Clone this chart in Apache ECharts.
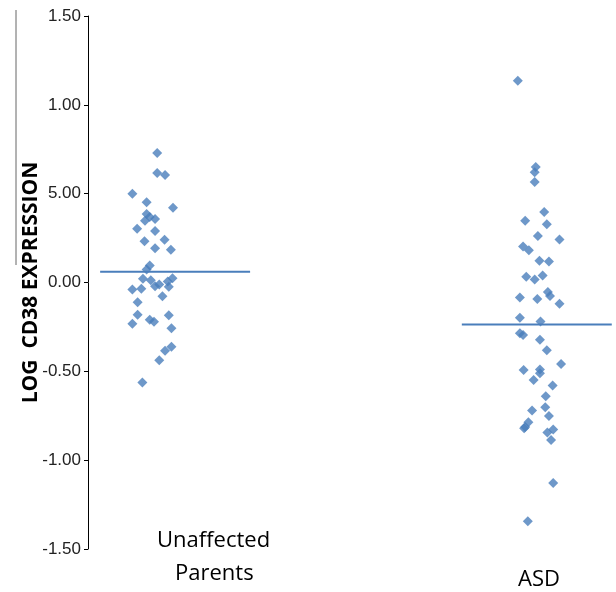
<!DOCTYPE html>
<html>
<head>
<meta charset="utf-8">
<title>LOG CD38 EXPRESSION</title>
<script src="https://cdn.jsdelivr.net/npm/echarts@6/dist/echarts.min.js"></script>
<style>
  html, body { margin: 0; padding: 0; background: #fff; }
  #main { width: 616px; height: 592px; }
</style>
</head>
<body>
<div id="main"></div>
<script>
// jitter position (0..10 horizontal scale) and log CD38 value per subject
var parentsX = [1.31,1.31,1.46,0.84,1.11,1.61,1.11,1.17,1.27,1.08,0.93,1.27,1.07,1.45,1.27,1.57,1.17,1.11,1.04,1.19,
                1.60,1.51,0.84,1.01,1.27,1.35,1.53,1.41,0.94,0.94,0.84,1.17,1.25,1.53,1.58,1.58,1.46,1.35,1.03];
var parentsY = [0.729,0.616,0.605,0.500,0.451,0.421,0.386,0.369,0.358,0.348,0.303,0.290,0.232,0.240,0.193,0.184,0.096,0.073,0.021,0.013,
                0.024,0.006,-0.039,-0.035,-0.021,-0.011,-0.024,-0.077,-0.111,-0.181,-0.232,-0.210,-0.221,-0.184,-0.257,-0.361,-0.384,-0.438,-0.563];
var asdX = [8.14,8.48,8.46,8.46,8.64,8.28,8.69,8.52,8.93,8.24,8.35,8.55,8.73,8.30,8.46,8.61,8.71,8.75,8.18,8.51,8.93,
            8.18,8.57,8.18,8.24,8.56,8.69,8.96,8.25,8.56,8.56,8.44,8.80,8.67,8.41,8.66,8.73,8.34,8.28,8.26,8.70,8.81,8.77,8.81,8.33];
var asdY = [1.135,0.650,0.620,0.566,0.397,0.348,0.328,0.262,0.242,0.202,0.181,0.122,0.118,0.032,0.017,0.039,-0.053,-0.076,-0.084,-0.093,-0.119,
            -0.198,-0.219,-0.285,-0.296,-0.322,-0.382,-0.459,-0.493,-0.489,-0.511,-0.549,-0.580,-0.640,-0.721,-0.702,-0.751,-0.787,-0.813,-0.820,-0.844,-0.828,-0.886,-1.129,-1.344];

// group means and the horizontal span of each mean bar
var parentsMean = 0.06;
var asdMean = -0.236;
var parentsMeanSpan = [0.23, 3.07];
var asdMeanSpan = [7.08, 9.92];

var yTicks = [-1.5, -1.0, -0.5, 0.0, 0.5, 1.0, 1.5];
var yTickLabels = ['-1.50', '-1.00', '-0.50', '0.00', '5.00', '1.00', '1.50'];

var blue = '#4a7ebb';

function pairs(xs, ys) {
    var out = [];
    for (var i = 0; i < xs.length; i++) out.push([xs[i], ys[i]]);
    return out;
}

var myChart = echarts.init(document.getElementById('main'));

var option = {
    animation: false,
    grid: { left: 88, right: 0, top: 16, bottom: 43 },
    xAxis: {
        type: 'value', min: 0, max: 10,
        show: false
    },
    yAxis: {
        type: 'value', min: -1.5, max: 1.5, interval: 0.5,
        name: 'LOG  CD38 EXPRESSION',
        nameLocation: 'middle',
        nameGap: 46,
        nameMoveOverlap: false,
        nameTextStyle: { fontFamily: 'Open Sans', fontWeight: 'bold', fontSize: 21, color: '#000' },
        axisLine: { show: true, lineStyle: { color: '#000', width: 1 } },
        axisTick: { show: true, length: 4, lineStyle: { color: '#000' } },
        splitLine: { show: false },
        axisLabel: {
            fontFamily: 'Liberation Sans', fontSize: 17, color: '#222', margin: 7,
            formatter: function (v) {
                var i = yTicks.indexOf(Math.round(v * 10) / 10);
                return i >= 0 ? yTickLabels[i] : '';
            }
        }
    },
    graphic: [
        { type: 'line', shape: { x1: 16, y1: 10, x2: 16, y2: 265 }, style: { stroke: '#666', lineWidth: 1 } },
        { type: 'text', left: 157, top: 530, style: { text: 'Unaffected', font: '22px Open Sans', fill: '#000' } },
        { type: 'text', left: 175, top: 563, style: { text: 'Parents', font: '22px Open Sans', fill: '#000' } },
        { type: 'text', left: 518, top: 569, style: { text: 'ASD', font: '22px Open Sans', fill: '#000' } }
    ],
    series: [
        {
            name: 'Unaffected Parents', type: 'scatter', symbol: 'diamond', symbolSize: 10,
            itemStyle: { color: blue }, data: pairs(parentsX, parentsY)
        },
        {
            name: 'ASD', type: 'scatter', symbol: 'diamond', symbolSize: 10,
            itemStyle: { color: blue }, data: pairs(asdX, asdY)
        },
        {
            type: 'line', showSymbol: false, lineStyle: { color: blue, width: 2 },
            data: [[parentsMeanSpan[0], parentsMean], [parentsMeanSpan[1], parentsMean]]
        },
        {
            type: 'line', showSymbol: false, lineStyle: { color: blue, width: 2 },
            data: [[asdMeanSpan[0], asdMean], [asdMeanSpan[1], asdMean]]
        }
    ]
};

myChart.setOption(option);
</script>
</body>
</html>
